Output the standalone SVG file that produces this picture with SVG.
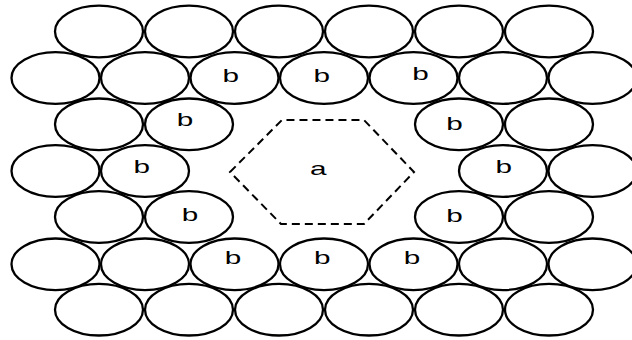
<svg xmlns="http://www.w3.org/2000/svg" width="632" height="340" viewBox="0 0 632 340">
<style>
.c{fill:#fff;stroke:#000;stroke-width:2.3}
.t{font-family:"Liberation Sans",Arial,sans-serif;font-size:17.5px;fill:#000;text-anchor:middle}
.h{fill:none;stroke:#000;stroke-width:2;stroke-dasharray:8,5}
</style>
<rect width="632" height="340" fill="#fff"/>
<g id="row1">
<ellipse class="c" cx="99" cy="31.5" rx="44" ry="25.8"/>
<ellipse class="c" cx="189" cy="31.5" rx="44" ry="25.8"/>
<ellipse class="c" cx="279" cy="31.5" rx="44" ry="25.8"/>
<ellipse class="c" cx="369" cy="31.5" rx="44" ry="25.8"/>
<ellipse class="c" cx="459" cy="31.5" rx="44" ry="25.8"/>
<ellipse class="c" cx="549" cy="31.5" rx="44" ry="25.8"/>
</g>
<g id="row2">
<ellipse class="c" cx="55.5" cy="78" rx="44" ry="25.8"/>
<ellipse class="c" cx="145" cy="78" rx="44" ry="25.8"/>
<g id="b1"><ellipse class="c" cx="234.5" cy="78" rx="44" ry="25.8"/><text class="t" transform="translate(230.8,81.5) scale(1.7,1)">b</text></g>
<g id="b2"><ellipse class="c" cx="324" cy="78" rx="44" ry="25.8"/><text class="t" transform="translate(321.8,81.5) scale(1.7,1)">b</text></g>
<g id="b3"><ellipse class="c" cx="413.5" cy="78" rx="44" ry="25.8"/><text class="t" transform="translate(420.5,80.2) scale(1.7,1)">b</text></g>
<ellipse class="c" cx="503" cy="78" rx="44" ry="25.8"/>
<ellipse class="c" cx="592.5" cy="78" rx="44" ry="25.8"/>
</g>
<g id="row3">
<ellipse class="c" cx="99" cy="124.3" rx="44" ry="25.8"/>
<g id="b4"><ellipse class="c" cx="189" cy="124.3" rx="44" ry="25.8"/><text class="t" transform="translate(185,126.2) scale(1.7,1)">b</text></g>
<g id="b5"><ellipse class="c" cx="459" cy="124.3" rx="44" ry="25.8"/><text class="t" transform="translate(454.5,130) scale(1.7,1)">b</text></g>
<ellipse class="c" cx="549" cy="124.3" rx="44" ry="25.8"/>
</g>
<g id="row4">
<ellipse class="c" cx="55.5" cy="171" rx="44" ry="25.8"/>
<g id="b6"><ellipse class="c" cx="145" cy="171" rx="44" ry="25.8"/><text class="t" transform="translate(141.7,172.5) scale(1.7,1)">b</text></g>
<g id="b7"><ellipse class="c" cx="503" cy="171" rx="44" ry="25.8"/><text class="t" transform="translate(503.7,173.3) scale(1.7,1)">b</text></g>
<ellipse class="c" cx="592.5" cy="171" rx="44" ry="25.8"/>
</g>
<g id="row5">
<ellipse class="c" cx="99" cy="217" rx="44" ry="25.8"/>
<g id="b8"><ellipse class="c" cx="189" cy="217" rx="44" ry="25.8"/><text class="t" transform="translate(190,221.2) scale(1.7,1)">b</text></g>
<g id="b9"><ellipse class="c" cx="459" cy="217" rx="44" ry="25.8"/><text class="t" transform="translate(454.5,221.7) scale(1.7,1)">b</text></g>
<ellipse class="c" cx="549" cy="217" rx="44" ry="25.8"/>
</g>
<g id="row6">
<ellipse class="c" cx="55.5" cy="264.3" rx="44" ry="25.8"/>
<ellipse class="c" cx="145" cy="264.3" rx="44" ry="25.8"/>
<g id="b10"><ellipse class="c" cx="234.5" cy="264.3" rx="44" ry="25.8"/><text class="t" transform="translate(233,263.5) scale(1.7,1)">b</text></g>
<g id="b11"><ellipse class="c" cx="324" cy="264.3" rx="44" ry="25.8"/><text class="t" transform="translate(322.3,264) scale(1.7,1)">b</text></g>
<g id="b12"><ellipse class="c" cx="413.5" cy="264.3" rx="44" ry="25.8"/><text class="t" transform="translate(412,264.3) scale(1.7,1)">b</text></g>
<ellipse class="c" cx="503" cy="264.3" rx="44" ry="25.8"/>
<ellipse class="c" cx="592.5" cy="264.3" rx="44" ry="25.8"/>
</g>
<g id="row7">
<ellipse class="c" cx="99" cy="309.7" rx="44" ry="25.8"/>
<ellipse class="c" cx="189" cy="309.7" rx="44" ry="25.8"/>
<ellipse class="c" cx="279" cy="309.7" rx="44" ry="25.8"/>
<ellipse class="c" cx="369" cy="309.7" rx="44" ry="25.8"/>
<ellipse class="c" cx="459" cy="309.7" rx="44" ry="25.8"/>
<ellipse class="c" cx="549" cy="309.7" rx="44" ry="25.8"/>
</g>
<g id="a">
<polygon class="h" points="230,172 282,120 364,120 414,172 364,224 281,224"/>
<text class="t" transform="translate(318.3,175) scale(1.7,1)">a</text>
</g>
</svg>
